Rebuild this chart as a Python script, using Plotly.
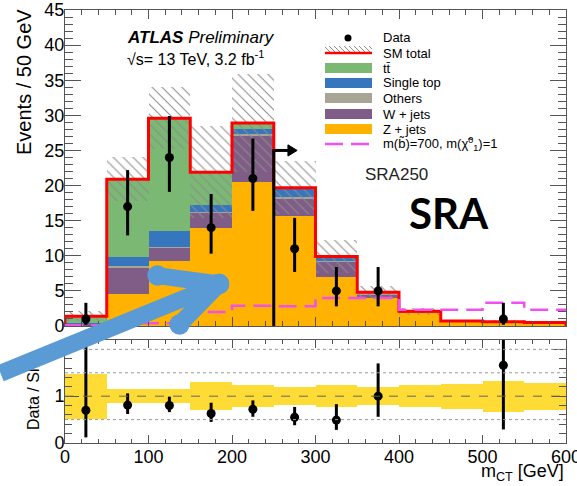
import numpy as np
import plotly.graph_objects as go

# ---------------- data ----------------
bin_edges = [0, 50, 100, 150, 200, 250, 300, 350, 400, 450, 500, 550, 600]
bin_centers = [25, 75, 125, 175, 225, 275, 325, 375, 425, 475, 525, 575]

z_jets     = [0.05, 4.6, 9.3, 13.9, 20.5, 15.6, 7.0, 4.0, 1.95, 0.65, 0.55, 0.45]
w_jets     = [0.25, 3.8, 1.9, 2.2, 6.5, 2.6, 2.2, 0.5, 0.05, 0.05, 0.05, 0.05]
others     = [0.0, 0.1, 0.1, 0.1, 0.3, 0.1, 0.1, 0.2, 0.05, 0.0, 0.0, 0.0]
single_top = [0.1, 1.3, 2.3, 1.1, 0.8, 1.3, 0.6, 0.1, 0.05, 0.0, 0.0, 0.0]
ttbar      = [1.0, 11.1, 16.0, 4.6, 0.8, 0.1, 0.0, 0.0, 0.0, 0.0, 0.0, 0.0]

sm_rel_unc = [0.48, 0.15, 0.15, 0.30, 0.24, 0.19, 0.24, 0.19, 0.24, 0.27, 0.33, 0.29]

signal = [0.1, 0.4, 0.4, 2.0, 2.9, 2.8, 4.0, 4.0, 2.3, 2.3, 3.3, 2.3]

data_x      = [25, 75, 125, 175, 225, 275, 325, 375, 525]
data_y      = [1, 17, 24, 14, 21, 11, 5, 5, 1]
data_err_up = [2.3, 5.2, 5.9, 4.8, 5.7, 4.4, 3.4, 3.4, 2.3]
data_err_dn = [0.83, 4.1, 4.9, 3.7, 4.6, 3.3, 2.2, 2.2, 0.83]

ratio_y      = [0.70, 0.81, 0.80, 0.63, 0.72, 0.55, 0.49, 1.00, 1.66]
ratio_err_up = [1.70, 0.25, 0.19, 0.23, 0.19, 0.22, 0.34, 0.70, 4.00]
ratio_err_dn = [0.58, 0.19, 0.14, 0.18, 0.16, 0.17, 0.21, 0.44, 1.37]

cut_value = 250
cut_arrow_height = 25

legend_labels = ["Data", "SM total", "tt\u0304", "Single top", "Others", "W + jets", "Z + jets",
                 "m(b\u0303)=700, m(\u03c7\u0303<sup>0</sup><sub>1</sub>)=1"]

# ---------------- styles ----------------
C_Z = "#FFB300"
C_W = "#805D87"
C_O = "#A8A496"
C_ST = "#3576BE"
C_TT = "#7AB874"
C_SIG = "#F050F0"
C_BAND = "#FFDC35"
C_BLUE = "#5B9BD5"
AX = "#555555"
FONT = "Liberation Sans, Arial, sans-serif"

components = [(z_jets, C_Z), (w_jets, C_W), (others, C_O), (single_top, C_ST), (ttbar, C_TT)]

# figure pixel geometry
L, R, T, B = 65, 566, 10, 443
def px(x):
    return (x - L) / (R - L)
def py(y):
    return (B - y) / (B - T)

fig = go.Figure()

base = np.zeros(len(bin_centers))
for vals, col in components:
    vals = np.array(vals, dtype=float)
    fig.add_trace(go.Bar(x=bin_centers, y=vals, base=base.copy(), width=50,
                         marker=dict(color=col, line=dict(width=0)),
                         xaxis="x", yaxis="y", hoverinfo="skip", showlegend=False))
    base = base + vals
total = base
rel = np.array(sm_rel_unc)

# hatched uncertainty band
fig.add_trace(go.Bar(x=bin_centers, y=2 * total * rel, base=total * (1 - rel), width=50,
                     marker=dict(color="rgba(0,0,0,0)", line=dict(width=0),
                                 pattern=dict(shape="\\", fgcolor="#8c8c8c", bgcolor="rgba(0,0,0,0)",
                                              size=7, solidity=0.15, fillmode="replace")),
                     xaxis="x", yaxis="y", hoverinfo="skip", showlegend=False))

# SM total outline
xs = [bin_edges[0]] + bin_edges[:-1] + [bin_edges[-1], bin_edges[-1]]
ys = [0] + list(total) + [total[-1], 0]
fig.add_trace(go.Scatter(x=xs, y=ys, mode="lines", line=dict(color="red", width=3, shape="hv"),
                         xaxis="x", yaxis="y", hoverinfo="skip", showlegend=False))

# signal
fig.add_trace(go.Scatter(x=bin_edges, y=signal + [signal[-1]], mode="lines",
                         line=dict(color=C_SIG, width=2.5, shape="hv", dash="18px,8px"),
                         xaxis="x", yaxis="y", hoverinfo="skip", showlegend=False))

# data
fig.add_trace(go.Scatter(x=data_x, y=data_y, mode="markers",
                         marker=dict(color="black", size=9),
                         error_y=dict(type="data", symmetric=False, array=data_err_up,
                                      arrayminus=data_err_dn, width=0, thickness=3, color="black"),
                         xaxis="x", yaxis="y", hoverinfo="skip", showlegend=False))

# ratio band
fig.add_trace(go.Bar(x=bin_centers, y=2 * rel, base=1 - rel, width=50,
                     marker=dict(color=C_BAND, line=dict(width=0)),
                     xaxis="x2", yaxis="y2", hoverinfo="skip", showlegend=False))
fig.add_trace(go.Scatter(x=data_x, y=ratio_y, mode="markers",
                         marker=dict(color="black", size=9),
                         error_y=dict(type="data", symmetric=False, array=ratio_err_up,
                                      arrayminus=ratio_err_dn, width=0, thickness=3, color="black"),
                         xaxis="x2", yaxis="y2", hoverinfo="skip", showlegend=False))

shapes = []
# ratio reference lines
shapes.append(dict(type="line", xref="x2", yref="y2", x0=0, x1=600, y0=1, y1=1,
                   line=dict(color="#666", width=1, dash="dash"), layer="above"))
for v in [0.5, 1.5, 2.0]:
    shapes.append(dict(type="line", xref="x2", yref="y2", x0=0, x1=600, y0=v, y1=v,
                       line=dict(color="#999", width=1, dash="dot"), layer="above"))

# cut arrow
shapes.append(dict(type="line", xref="x", yref="y", x0=cut_value, x1=cut_value, y0=0,
                   y1=cut_arrow_height, line=dict(color="black", width=3), layer="above"))
shapes.append(dict(type="line", xref="x", yref="y", x0=cut_value - 1.5, x1=cut_value + 18,
                   y0=cut_arrow_height, y1=cut_arrow_height, line=dict(color="black", width=3), layer="above"))
shapes.append(dict(type="path", xref="x", yref="y",
                   path=f"M {cut_value+17},{cut_arrow_height-0.8} L {cut_value+28},{cut_arrow_height} "
                        f"L {cut_value+17},{cut_arrow_height+0.8} Z",
                   fillcolor="black", line=dict(color="black", width=1), layer="above"))

# manual legend
SW0, SW1 = 325, 372
rows_y = [38, 53, 68, 83, 98, 114, 129, 144]
shapes.append(dict(type="circle", xref="paper", yref="paper", x0=px(344.5), x1=px(351.5),
                   y0=py(rows_y[0] + 3.5), y1=py(rows_y[0] - 3.5), fillcolor="black",
                   line=dict(color="black", width=0), layer="above"))
# SM total: hatch + red line
hp = ""
for x in range(SW0 - 6, SW1, 5):
    xa, ya, xb, yb = x, 46.0, x + 7, 53.0
    if xa < SW0:
        ya += SW0 - xa
        xa = SW0
    if xb > SW1:
        yb -= xb - SW1
        xb = SW1
    if xb > xa:
        hp += f"M {px(xa):.5f},{py(ya):.5f} L {px(xb):.5f},{py(yb):.5f} "
shapes.append(dict(type="path", xref="paper", yref="paper", path=hp,
                   line=dict(color="#8c8c8c", width=1), layer="above"))
shapes.append(dict(type="line", xref="paper", yref="paper", x0=px(SW0), x1=px(SW1),
                   y0=py(rows_y[1]), y1=py(rows_y[1]), line=dict(color="red", width=2.5), layer="above"))
for ry, col in zip(rows_y[2:7], [C_TT, C_ST, C_O, C_W, C_Z]):
    shapes.append(dict(type="rect", xref="paper", yref="paper", x0=px(SW0), x1=px(SW1),
                       y0=py(ry + 5), y1=py(ry - 5), fillcolor=col, line=dict(width=0), layer="above"))
shapes.append(dict(type="line", xref="paper", yref="paper", x0=px(SW0), x1=px(SW1),
                   y0=py(rows_y[7]), y1=py(rows_y[7]),
                   line=dict(color=C_SIG, width=2.5, dash="18px,8px"), layer="above"))

annotations = []
for ry, lab in zip(rows_y, legend_labels):
    annotations.append(dict(x=px(381), y=py(ry), xref="paper", yref="paper", text=lab,
                            showarrow=False, xanchor="left", yanchor="middle",
                            font=dict(family=FONT, size=13, color="black")))

annotations += [
    dict(x=px(125), y=py(38), xref="paper", yref="paper", xanchor="left", yanchor="middle",
         text="<b><i>ATLAS</i></b> <i>Preliminary</i>", showarrow=False,
         font=dict(family=FONT, size=17, color="black")),
    dict(x=px(125), y=py(58), xref="paper", yref="paper", xanchor="left", yanchor="middle",
         text="\u221as= 13 TeV, 3.2 fb<sup>-1</sup>", showarrow=False,
         font=dict(family=FONT, size=16, color="black")),
    dict(x=px(396), y=py(174), xref="paper", yref="paper", xanchor="center", yanchor="middle",
         text="SRA250", showarrow=False, font=dict(family=FONT, size=17, color="#222")),
    dict(x=px(449), y=py(213), xref="paper", yref="paper", xanchor="center", yanchor="middle",
         text="<b>SRA</b>", showarrow=False, font=dict(family="Lato, Open Sans, sans-serif", size=42, color="black")),
    dict(x=px(24), y=py(82), xref="paper", yref="paper", xanchor="center", yanchor="middle",
         text="Events / 50 GeV", textangle=-90, showarrow=False,
         font=dict(family=FONT, size=20, color="black")),
    dict(x=px(33), y=py(395), xref="paper", yref="paper", xanchor="center", yanchor="middle",
         text="Data / SM", textangle=-90, showarrow=False,
         font=dict(family=FONT, size=16, color="black")),
    dict(x=px(566), y=py(473), xref="paper", yref="paper", xanchor="right", yanchor="middle",
         text="m<sub>CT</sub> [GeV]", showarrow=False,
         font=dict(family=FONT, size=18, color="black")),
]

# big blue overlay arrow (drawn last, on top of everything)
tip = (219, 284)
segs = [((-20, 373.5), 0), ((157, 275.5), 6), ((179, 325), 6)]
for (sx, sy), starthead in segs:
    annotations.append(dict(x=px(tip[0]), y=py(tip[1]), xref="paper", yref="paper",
                            ax=sx - tip[0], ay=sy - tip[1], text="", showarrow=True,
                            arrowhead=6, arrowsize=0.3, arrowwidth=17, arrowcolor=C_BLUE,
                            arrowside="end+start" if starthead else "end",
                            startarrowhead=6, startarrowsize=0.3,
                            standoff=0, startstandoff=0, borderpad=0,
                            font=dict(size=1)))

axis_common = dict(showline=True, linecolor=AX, linewidth=1, mirror="allticks", ticks="inside",
                   tickcolor=AX, showgrid=False, zeroline=False, automargin=False,
                   ticklabeloverflow="allow",
                   tickfont=dict(family=FONT, size=18, color="black"))

fig.update_layout(
    width=577, height=486, margin=dict(l=L, r=577 - R, t=T, b=486 - B, autoexpand=False),
    paper_bgcolor="white", plot_bgcolor="white", barmode="overlay", bargap=0,
    showlegend=False, font=dict(family=FONT, size=18, color="black"),
    xaxis=dict(domain=[0, 1], anchor="y", range=[0, 600], showticklabels=False,
               tick0=0, dtick=100, ticklen=9,
               minor=dict(tick0=0, dtick=20, ticklen=5, ticks="inside", tickcolor=AX), **axis_common),
    yaxis=dict(domain=[(B - 326) / (B - T), 1], anchor="x", range=[0, 45], tick0=0, dtick=5, ticklen=16,
               ticklabelstandoff=-4,
               minor=dict(tick0=0, dtick=1, ticklen=8, ticks="inside", tickcolor=AX), **axis_common),
    xaxis2=dict(domain=[0, 1], anchor="y2", range=[0, 600], tick0=0, dtick=100, ticklen=8,
                ticklabelstandoff=-3,
                minor=dict(tick0=0, dtick=20, ticklen=4, ticks="inside", tickcolor=AX), **axis_common),
    yaxis2=dict(domain=[0, (B - 340) / (B - T)], anchor="x2", range=[0, 2.2], tick0=0, dtick=1, ticklen=14,
                ticklabelstandoff=-4,
                minor=dict(tick0=0, dtick=0.2, ticklen=7, ticks="inside", tickcolor=AX), **axis_common),
    shapes=shapes, annotations=annotations,
)

fig.write_html("out.html", config={"displayModeBar": False},
               post_script="document.body.style.margin='0';document.body.style.overflow='hidden';")
